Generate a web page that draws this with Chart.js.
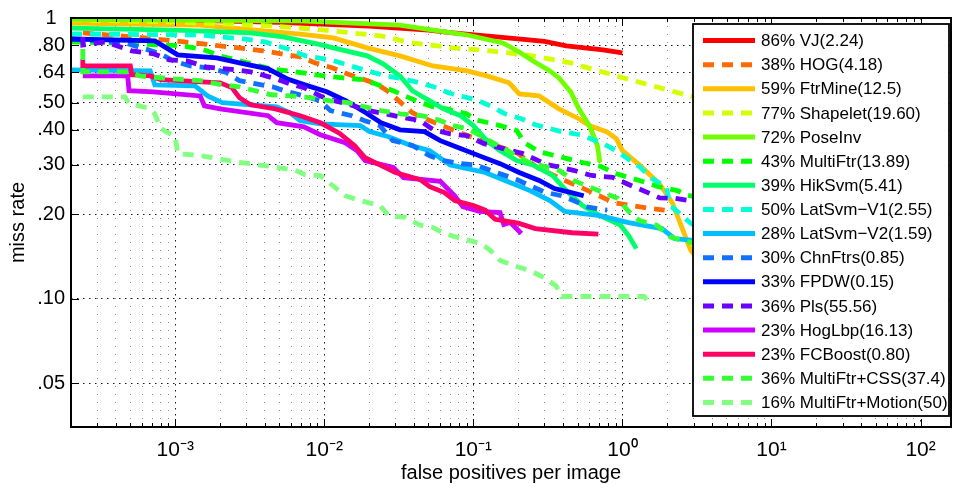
<!DOCTYPE html>
<html><head><meta charset="utf-8">
<script src="https://cdn.jsdelivr.net/npm/chart.js@4"></script>
<style>html,body{margin:0;padding:0;background:#fff}#wrap{width:954px;height:485px;position:relative}</style>
</head><body><div id="wrap"><canvas id="c"></canvas></div>
<script>
// ---- labels / ticks ----
const legendLabels = ['86% VJ(2.24)','38% HOG(4.18)','59% FtrMine(12.5)','77% Shapelet(19.60)','72% PoseInv','43% MultiFtr(13.89)','39% HikSvm(5.41)','50% LatSvm\u2212V1(2.55)','28% LatSvm\u2212V2(1.59)','30% ChnFtrs(0.85)','33% FPDW(0.15)','36% Pls(55.56)','23% HogLbp(16.13)','23% FCBoost(0.80)','36% MultiFtr+CSS(37.4)','16% MultiFtr+Motion(50)'];
const xTickValues = [1e-3,1e-2,1e-1,1,10,100];
const xTickLabels = ['10\u207B\u00B3','10\u207B\u00B2','10\u207B\u00B9','10\u2070','10\u00B9','10\u00B2'];
const yTickValues = [0.05,0.1,0.2,0.3,0.4,0.5,0.64,0.8,1];
const yTickLabels = ['.05','.10','.20','.30','.40','.50','.64','.80','1'];

// ---- series: [false positives per image, miss rate] ----
const vj = [[2e-4,0.995],[1e-3,0.985],[5e-3,0.965],[0.02,0.935],[0.05,0.905],[0.073,0.885],[0.2,0.842],[0.3,0.825],[0.42,0.796],[0.6,0.78],[0.74,0.77],[1.0,0.752]];
const hog = [[2.4e-4,0.885],[6.3e-4,0.849],[1.36e-3,0.815],[3.9e-3,0.764],[6.9e-3,0.727],[8.7e-3,0.692],[0.0113,0.665],[0.0142,0.633],[0.0224,0.583],[0.0264,0.551],[0.039,0.46],[0.046,0.441],[0.085,0.387],[0.196,0.331],[0.27,0.293],[0.41,0.264],[0.55,0.247],[0.88,0.22],[1.52,0.21],[1.92,0.207]];
const ftrmine = [[2e-4,0.96],[1.47e-3,0.944],[6.9e-3,0.877],[0.0115,0.849],[0.0194,0.783],[0.0322,0.733],[0.0536,0.675],[0.091,0.648],[0.123,0.622],[0.174,0.588],[0.203,0.537],[0.276,0.528],[0.375,0.475],[0.51,0.438],[0.6,0.414],[0.78,0.394],[0.91,0.372],[1.0,0.337],[1.3,0.30],[1.77,0.257],[2.16,0.22],[2.5,0.18],[2.87,0.149],[3.8,0.126]];
const shapelet = [[2e-4,0.984],[1e-3,0.968],[4.4e-3,0.937],[0.01,0.906],[0.024,0.863],[0.039,0.815],[0.073,0.783],[0.13,0.764],[0.25,0.733],[0.45,0.692],[0.91,0.622],[1.6,0.573],[2.83,0.528],[8.5,0.468],[19.6,0.43]];
const poseinv = [[2e-4,0.99],[6.9e-3,0.976],[0.032,0.944],[0.054,0.906],[0.091,0.87],[0.158,0.815],[0.203,0.757],[0.25,0.704],[0.326,0.648],[0.375,0.612],[0.45,0.546],[0.51,0.475],[0.6,0.414],[0.68,0.351],[0.706,0.306]];
const multiftr = [[2e-4,0.822],[3.66e-4,0.815],[1.11e-3,0.796],[1.5e-3,0.776],[2.0e-3,0.733],[4.4e-3,0.659],[5.7e-3,0.648],[0.01,0.622],[0.0134,0.612],[0.018,0.603],[0.022,0.583],[0.029,0.551],[0.036,0.524],[0.044,0.50],[0.054,0.483],[0.066,0.475],[0.09,0.456],[0.104,0.434],[0.151,0.414],[0.196,0.397],[0.22,0.36],[0.276,0.334],[0.36,0.323],[0.54,0.306],[0.72,0.296],[0.87,0.281],[1.3,0.264],[1.74,0.251],[2.34,0.243],[2.7,0.234],[4.4,0.224]];
const hiksvm = [[2e-4,0.921],[1e-3,0.906],[3.2e-3,0.885],[5.3e-3,0.856],[9.6e-3,0.802],[0.0115,0.783],[0.0194,0.733],[0.0248,0.687],[0.0322,0.622],[0.039,0.551],[0.051,0.507],[0.063,0.475],[0.082,0.449],[0.1,0.414],[0.123,0.366],[0.151,0.337],[0.196,0.311],[0.25,0.30],[0.34,0.275],[0.42,0.243],[0.54,0.215],[0.706,0.198],[0.97,0.183],[1.1,0.168],[1.24,0.151]];
const latsvm1 = [[2e-4,0.877],[1.47e-3,0.87],[2.9e-3,0.842],[4e-3,0.822],[5.7e-3,0.776],[7.5e-3,0.733],[0.011,0.71],[0.0142,0.681],[0.0196,0.648],[0.0259,0.622],[0.0333,0.608],[0.044,0.588],[0.054,0.569],[0.068,0.542],[0.082,0.528],[0.103,0.512],[0.13,0.487],[0.163,0.456],[0.21,0.438],[0.26,0.417],[0.326,0.404],[0.39,0.394],[0.52,0.384],[0.72,0.36],[0.91,0.337],[1.1,0.314],[1.32,0.294],[1.58,0.268],[1.96,0.251],[2.1,0.215],[2.87,0.186],[4.4,0.168]];
const latsvm2 = [[2e-4,0.654],[6.8e-4,0.648],[7.3e-4,0.578],[1.36e-3,0.573],[1.65e-3,0.528],[2.07e-3,0.50],[4.8e-3,0.483],[5.9e-3,0.46],[6.9e-3,0.431],[9.4e-3,0.42],[0.0174,0.414],[0.0201,0.394],[0.027,0.378],[0.037,0.354],[0.051,0.337],[0.07,0.30],[0.12,0.282],[0.163,0.264],[0.24,0.243],[0.326,0.224],[0.41,0.205],[0.706,0.198],[1.1,0.187],[1.84,0.178],[2.24,0.164],[2.87,0.162],[5.2,0.155]];
const chnftrs = [[2e-4,0.842],[4.6e-4,0.815],[6.3e-4,0.776],[8e-4,0.745],[9.7e-4,0.704],[1.26e-3,0.675],[1.65e-3,0.665],[2.2e-3,0.64],[2.7e-3,0.598],[3.5e-3,0.583],[4.5e-3,0.569],[5.4e-3,0.551],[7.3e-3,0.528],[9.4e-3,0.507],[0.011,0.468],[0.0153,0.449],[0.0187,0.431],[0.0236,0.414],[0.0288,0.366],[0.039,0.352],[0.051,0.323],[0.063,0.311],[0.082,0.303],[0.104,0.30],[0.13,0.287],[0.195,0.266],[0.24,0.253],[0.3,0.24],[0.39,0.233],[0.47,0.224],[0.59,0.212],[0.79,0.207]];
const fpdw = [[2e-4,0.842],[7.3e-4,0.829],[8.5e-4,0.789],[1.04e-3,0.739],[1.9e-3,0.721],[2.7e-3,0.692],[4.2e-3,0.659],[5.6e-3,0.608],[7.4e-3,0.578],[0.0104,0.546],[0.014,0.507],[0.019,0.46],[0.024,0.424],[0.0322,0.40],[0.047,0.394],[0.06,0.366],[0.082,0.343],[0.11,0.323],[0.151,0.303],[0.203,0.282],[0.276,0.264],[0.35,0.247],[0.44,0.24],[0.55,0.233]];
const pls = [[2.4e-4,0.856],[2.4e-4,0.802],[3.4e-4,0.822],[5.1e-4,0.764],[7.2e-4,0.745],[9.1e-4,0.71],[1.2e-3,0.704],[1.6e-3,0.67],[2.5e-3,0.654],[3.2e-3,0.643],[3.8e-3,0.628],[4.7e-3,0.608],[5.9e-3,0.583],[7.3e-3,0.565],[9.4e-3,0.528],[0.0118,0.507],[0.0149,0.491],[0.02,0.468],[0.0322,0.445],[0.044,0.431],[0.054,0.40],[0.07,0.387],[0.091,0.381],[0.118,0.357],[0.215,0.329],[0.31,0.301],[0.47,0.287],[0.62,0.275],[0.86,0.271],[1.13,0.254],[1.48,0.239],[1.78,0.229],[2.27,0.228],[4.4,0.215]];
const hoglbp = [[2.4e-4,0.622],[4.8e-4,0.622],[4.9e-4,0.551],[7.1e-4,0.546],[1.47e-3,0.528],[1.57e-3,0.487],[2.0e-3,0.475],[4.2e-3,0.449],[4.8e-3,0.424],[7.3e-3,0.41],[9.4e-3,0.384],[0.0138,0.36],[0.0166,0.337],[0.0188,0.311],[0.029,0.294],[0.034,0.27],[0.06,0.262],[0.075,0.233],[0.085,0.213],[0.11,0.205],[0.151,0.203],[0.16,0.184],[0.177,0.187],[0.21,0.171]];
const fcboost = [[2.4e-4,0.715],[2.4e-4,0.675],[5e-4,0.675],[5.1e-4,0.628],[6.8e-4,0.622],[8e-4,0.603],[2e-3,0.588],[2.4e-3,0.565],[2.7e-3,0.52],[3.2e-3,0.491],[4.7e-3,0.475],[6.9e-3,0.449],[9.4e-3,0.424],[0.0127,0.388],[0.016,0.351],[0.0188,0.318],[0.0236,0.30],[0.03,0.282],[0.044,0.266],[0.051,0.251],[0.064,0.239],[0.075,0.224],[0.1,0.215],[0.12,0.207],[0.14,0.192],[0.2,0.186],[0.26,0.178],[0.46,0.172],[0.69,0.17]];
const multiftrCss = [[2.4e-4,0.776],[2.4e-4,0.643],[5e-4,0.643],[5.8e-4,0.622],[9.2e-4,0.608],[1.47e-3,0.598],[2.07e-3,0.578],[2.7e-3,0.569],[4.4e-3,0.533],[6e-3,0.528],[8.2e-3,0.52],[0.011,0.507],[0.0144,0.50],[0.0187,0.483],[0.024,0.468],[0.0322,0.456],[0.045,0.449],[0.058,0.434],[0.073,0.414],[0.091,0.404],[0.16,0.343],[0.23,0.308],[0.38,0.286],[0.47,0.264],[0.69,0.243],[0.93,0.228],[1.1,0.205],[1.3,0.19],[1.7,0.183],[2.1,0.166],[2.7,0.16],[5.2,0.149]];
const multiftrMotion = [[2.4e-4,0.524],[4.6e-4,0.524],[4.9e-4,0.496],[6.5e-4,0.479],[7.3e-4,0.456],[8e-4,0.404],[1e-3,0.378],[1.04e-3,0.329],[1.47e-3,0.324],[2.5e-3,0.308],[4.4e-3,0.296],[6.4e-3,0.287],[7.4e-3,0.277],[9.4e-3,0.275],[0.0114,0.253],[0.0138,0.233],[0.0174,0.224],[0.0236,0.215],[0.027,0.198],[0.035,0.195],[0.044,0.183],[0.053,0.18],[0.064,0.171],[0.083,0.164],[0.11,0.158],[0.13,0.149],[0.151,0.137],[0.19,0.131],[0.24,0.126],[0.3,0.119],[0.36,0.111],[0.39,0.102],[0.706,0.102],[1.4,0.102],[1.5,0.097]];

const series = [vj,hog,ftrmine,shapelet,poseinv,multiftr,hiksvm,latsvm1,latsvm2,chnftrs,fpdw,pls,hoglbp,fcboost,multiftrCss,multiftrMotion];

// ---- styles ----
const colors = ['#ff0000','#ff6a00','#ffc000','#d5ff00','#70ff00','#00ff00','#00ff6a','#00ffd5','#00bfff','#1070ff','#0000ff','#6a00ff','#d000ff','#ff0066','#33ff33','#80ff80'];
const dashed = [false,true,false,true,false,true,false,true,false,true,false,true,false,false,true,true];
const DASH = [11,8];
const FONT = "'Liberation Sans', Arial, Helvetica, sans-serif";

const xGridValues = [];
for (let d = -4; d <= 2; d++) for (let k = 1; k <= 9; k++) { const v = k * Math.pow(10, d); if (v > 2.05e-4 && v < 160) xGridValues.push(v); }
const isDecade = v => Math.abs(Math.log10(v) - Math.round(Math.log10(v))) < 1e-6;
const near = (a, b) => Math.abs(Math.log10(a) - Math.log10(b)) < 1e-6;

const framePlugin = {
  id: 'frameLegend',
  afterDatasetsDraw(chart) {
    const {ctx, chartArea: a, scales: {x, y}} = chart;
    ctx.save();
    ctx.setLineDash([]);
    ctx.strokeStyle = '#000';
    ctx.lineWidth = 1;
    const seg = (x1, y1, x2, y2) => { ctx.beginPath(); ctx.moveTo(x1, y1); ctx.lineTo(x2, y2); ctx.stroke(); };
    xGridValues.forEach(v => {
      const px = Math.round(x.getPixelForValue(v)) + 0.5;
      const len = isDecade(v) ? 8 : 4;
      seg(px, a.bottom, px, a.bottom - len);
      seg(px, a.top, px, a.top + len);
    });
    yTickValues.forEach(v => {
      const py = Math.round(y.getPixelForValue(v)) + 0.5;
      seg(a.left, py, a.left + 8, py);
      seg(a.right, py, a.right - 8, py);
    });
    ctx.lineWidth = 2;
    ctx.strokeRect(a.left, a.top, a.right - a.left, a.bottom - a.top);

    // legend box
    const L = a.right - 258, T = a.top + 6, R = a.right - 2, B = a.top + 398;
    ctx.fillStyle = '#fff';
    ctx.fillRect(L, T, R - L, B - T);
    ctx.lineWidth = 1.8;
    ctx.strokeStyle = '#000';
    ctx.strokeRect(L, T, R - L, B - T);
    ctx.font = '17px ' + FONT;
    ctx.textBaseline = 'middle';
    ctx.textAlign = 'left';
    chart.data.datasets.forEach((ds, i) => {
      const cy = T + 16.5 + i * 24.13;
      ctx.strokeStyle = ds.borderColor;
      ctx.lineWidth = 5;
      ctx.setLineDash(ds.borderDash || []);
      seg(L + 10, cy, L + 62, cy);
      ctx.setLineDash([]);
      ctx.fillStyle = '#000';
      ctx.fillText(legendLabels[i], L + 68, cy + 1);
    });
    ctx.restore();
  }
};

Chart.defaults.font.family = FONT;
Chart.defaults.color = '#000';

new Chart(document.getElementById('c'), {
  type: 'line',
  data: {
    datasets: series.map((s, i) => ({
      label: legendLabels[i],
      data: s.map(p => ({x: p[0], y: p[1]})),
      borderColor: colors[i],
      borderWidth: 4.8,
      borderDash: dashed[i] ? DASH : [],
      pointRadius: 0,
      fill: false,
      tension: 0,
      order: series.length - i
    }))
  },
  options: {
    responsive: true,
    maintainAspectRatio: false,
    animation: false,
    layout: {padding: {top: 17, right: 3, left: 0, bottom: 0}},
    plugins: {legend: {display: false}, tooltip: {enabled: false}},
    scales: {
      x: {
        type: 'logarithmic', min: 2e-4, max: 160,
        afterBuildTicks: s => { s.ticks = xGridValues.map(v => ({value: v})); },
        afterFit: s => { s.height = 58; },
        ticks: {
          autoSkip: false, maxRotation: 0, padding: 11,
          font: {size: 21},
          callback: v => { const i = xTickValues.findIndex(t => near(t, v)); return i >= 0 ? xTickLabels[i] : ''; }
        },
        grid: {
          drawTicks: false, lineWidth: 1,
          color: c => (c.tick && isDecade(c.tick.value)) ? 'rgba(0,0,0,0.9)' : 'rgba(0,0,0,0.45)'
        },
        border: {display: false, dash: c => (c.tick && isDecade(c.tick.value)) ? [1.5, 4.5] : [1, 7]},
        title: {display: true, text: 'false positives per image', font: {size: 20}, padding: {top: 0, bottom: 0}}
      },
      y: {
        type: 'logarithmic', min: 0.035, max: 1,
        afterBuildTicks: s => { s.ticks = yTickValues.map(v => ({value: v})); },
        afterFit: s => { s.width = 71; },
        ticks: {
          autoSkip: false, padding: 6, crossAlign: 'center',
          font: {size: 20},
          callback: v => { const i = yTickValues.findIndex(t => near(t, v)); return i >= 0 ? yTickLabels[i] : ''; }
        },
        grid: {drawTicks: false, lineWidth: 1, color: 'rgba(0,0,0,0.9)'},
        border: {display: false, dash: [1.5, 4.5]},
        title: {display: true, text: 'miss rate', font: {size: 20}, padding: {top: 6, bottom: 0}}
      }
    }
  },
  plugins: [framePlugin]
});
</script>
</body></html>
